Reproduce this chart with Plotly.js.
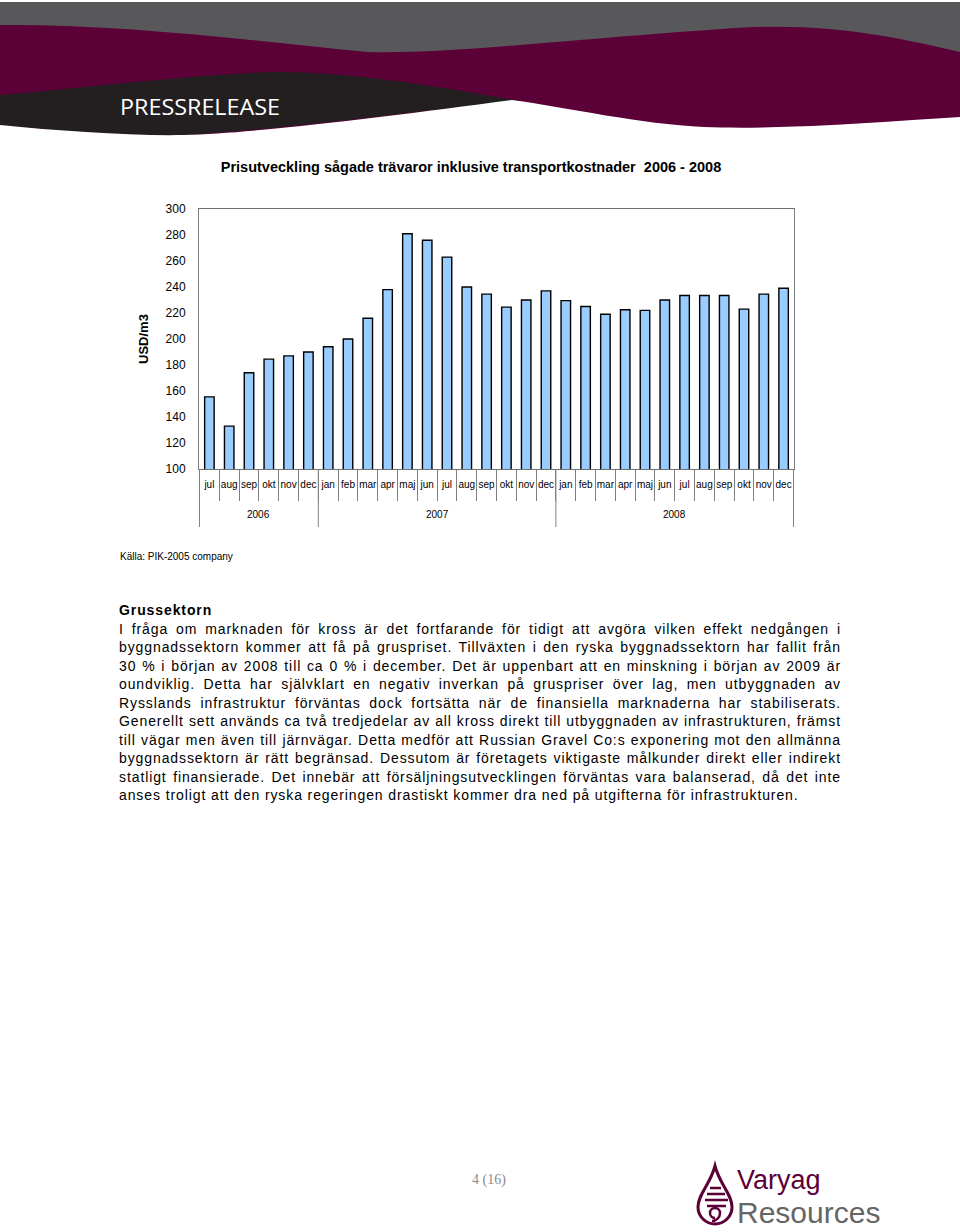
<!DOCTYPE html>
<html>
<head>
<meta charset="utf-8">
<script src="https://cdn.plot.ly/plotly-3.0.1.min.js"></script>
<style>
  body { margin: 0; background: #fff; }
  #page { position: relative; width: 960px; height: 1232px; overflow: hidden; background: #fff;
          font-family: "Liberation Sans", Arial, sans-serif; color: #000; }
  #header { position: absolute; left: 0; top: 0; }
  #chart { position: absolute; left: 0; top: 140px; width: 960px; height: 420px; }
  #source { position: absolute; left: 120px; top: 551px; font-size: 10px; }
  #body { position: absolute; left: 119px; top: 601px; width: 722px; font-size: 14px; line-height: 18.5px;
          letter-spacing: 0.9px; }
  #body .ln { white-space: nowrap; text-align: justify; text-align-last: justify; }
  #body .last { text-align: left; text-align-last: left; }
  #pageno { position: absolute; left: 472px; top: 1172px; font-family: "Liberation Serif", "DejaVu Serif", serif;
            font-size: 14px; color: #8a8a8a; }
  #logo { position: absolute; left: 690px; top: 1160px; }
  .brand { position: absolute; left: 737px; font-family: "Liberation Sans", Arial, sans-serif; white-space: nowrap;
           line-height: 1.117; }
  #brand1 { top: 1164.6px; font-size: 27px; color: #5c0038; }
  #brand2 { top: 1195.9px; font-size: 30px; color: #666; }
</style>
</head>
<body>
<div id="page">
  <svg id="header" width="960" height="140">
    <rect x="0" y="0" width="960" height="140" fill="#fff"/>
    <rect x="0" y="2" width="960" height="70" fill="#58585a"/>
    <path d="M0,25 C120,24 250,40 367,52 C450,54 560,40 735,28 C830,22 900,38 960,52 L960,140 L0,140 Z" fill="#5c0038"/>
    <path d="M0,95 C80,88 200,74 275,72 C350,72 430,85 520,101 C420,110 300,128 184,135 C120,137 50,130 0,125 Z" fill="#231f20"/>
    <path d="M0,125 C60,131 130,136 184,135 C260,133 400,115 512,100 C570,108 640,124 704,127 C780,130 880,122 960,117 L960,140 L0,140 Z" fill="#fff"/>
    <text x="120" y="115" fill="#fff" font-family="Open Sans, sans-serif" font-size="22"
          textLength="160" lengthAdjust="spacingAndGlyphs">PRESSRELEASE</text>
  </svg>

  <div id="chart"></div>

  <div id="source">Källa: PIK-2005 company</div>

  <div id="body">
    <div><b>Grussektorn</b></div>
    <div class="ln">I fråga om marknaden för kross är det fortfarande för tidigt att avgöra vilken effekt nedgången i</div>
    <div class="ln">byggnadssektorn kommer att få på gruspriset. Tillväxten i den ryska byggnadssektorn har fallit från</div>
    <div class="ln">30 % i början av 2008 till ca 0 % i december. Det är uppenbart att en minskning i början av 2009 är</div>
    <div class="ln">oundviklig. Detta har självklart en negativ inverkan på gruspriser över lag, men utbyggnaden av</div>
    <div class="ln">Rysslands infrastruktur förväntas dock fortsätta när de finansiella marknaderna har stabiliserats.</div>
    <div class="ln">Generellt sett används ca två tredjedelar av all kross direkt till utbyggnaden av infrastrukturen, främst</div>
    <div class="ln">till vägar men även till järnvägar. Detta medför att Russian Gravel Co:s exponering mot den allmänna</div>
    <div class="ln">byggnadssektorn är rätt begränsad. Dessutom är företagets viktigaste målkunder direkt eller indirekt</div>
    <div class="ln">statligt finansierade. Det innebär att försäljningsutvecklingen förväntas vara balanserad, då det inte</div>
    <div class="ln last">anses troligt att den ryska regeringen drastiskt kommer dra ned på utgifterna för infrastrukturen.</div>
  </div>

  <div id="pageno">4 (16)</div>

  <svg id="logo" width="50" height="70">
    <g fill="none" stroke="#5c0038" stroke-width="3">
      <path d="M25,6 C20,25 8,34 8,47 A17,17 0 0 0 42,47 C42,34 30,25 25,6 Z"/>
      <path d="M20,28 L31,28 M17,34 L35,34 M15,40 L38,40 M17,46 L36,46" stroke-width="2.5"/>
      <path d="M25,58 A5,5 0 1 1 30,53 A8,8 0 0 1 22,61" stroke-width="2.5"/>
    </g>
  </svg>
  <div class="brand" id="brand1">Varyag</div>
  <div class="brand" id="brand2">Resources</div>
</div>

<script>
  // Månadspriser, USD/m3
  const years = ['2006','2006','2006','2006','2006','2006',
    '2007','2007','2007','2007','2007','2007','2007','2007','2007','2007','2007','2007',
    '2008','2008','2008','2008','2008','2008','2008','2008','2008','2008','2008','2008'];
  const months = ['jul','aug','sep','okt','nov','dec',
    'jan','feb','mar','apr','maj','jun','jul','aug','sep','okt','nov','dec',
    'jan','feb','mar','apr','maj','jun','jul','aug','sep','okt','nov','dec'];
  const prices = [155.5, 133, 174, 184.5, 187, 190,
    194, 200, 216, 238, 281, 276, 263, 240, 234.5, 224.5, 230, 237,
    229.5, 225, 219, 222.5, 222, 230, 233.5, 233.5, 233.5, 223, 234.5, 239];

  const font = 'Liberation Sans, Arial, sans-serif';
  const cats = months.map((m, i) => m + ' ' + years[i]);

  // year groups: dividers at the edges, label in the middle
  const groups = [];
  years.forEach((y, i) => {
    if (!groups.length || groups[groups.length - 1].year !== y) groups.push({ year: y, start: i, end: i });
    else groups[groups.length - 1].end = i;
  });

  const plotH = 260;
  const shapes = [];
  const annotations = [];
  groups.forEach((g, k) => {
    if (k === 0) shapes.push({ type: 'line', xref: 'x', yref: 'paper', x0: g.start - 0.5, x1: g.start - 0.5,
      y0: 0, y1: -58 / plotH, line: { color: '#808080', width: 1 } });
    shapes.push({ type: 'line', xref: 'x', yref: 'paper', x0: g.end + 0.5, x1: g.end + 0.5,
      y0: 0, y1: -58 / plotH, line: { color: '#808080', width: 1 } });
    annotations.push({ xref: 'x', yref: 'paper', x: (g.start + g.end) / 2, y: -45 / plotH,
      text: g.year, showarrow: false, yanchor: 'middle', font: { family: font, size: 10, color: '#000' } });
  });

  const trace = {
    type: 'bar',
    x: cats,
    y: prices,
    marker: { color: '#99ccff', line: { color: '#000', width: 1.4 } },
    hoverinfo: 'skip'
  };

  const layout = {
    width: 960,
    height: 420,
    margin: { l: 199, r: 166, t: 69, b: 91 },
    paper_bgcolor: 'rgba(0,0,0,0)',
    plot_bgcolor: '#fff',
    font: { family: font, color: '#000' },
    showlegend: false,
    bargap: 0.52,
    title: {
      text: '<b>Prisutveckling sågade trävaror inklusive transportkostnader \u00a02006 - 2008</b>',
      font: { family: font, size: 14.5, color: '#000' },
      xref: 'container', x: 471 / 960, xanchor: 'center',
      yref: 'container', y: 1 - 27 / 420, yanchor: 'middle'
    },
    xaxis: {
      type: 'category',
      tickvals: cats, ticktext: months, tickangle: 0,
      showline: true, linecolor: '#707070', linewidth: 1, mirror: true,
      ticks: 'outside', tickson: 'boundaries', ticklen: 31, tickcolor: '#808080', tickwidth: 1,
      ticklabelstandoff: 6,
      tickfont: { family: font, size: 10, color: '#000' },
      showgrid: false
    },
    yaxis: {
      range: [100, 300], tick0: 100, dtick: 20,
      showgrid: false, zeroline: false,
      showline: true, linecolor: '#808080', linewidth: 1, mirror: true,
      ticks: '', ticklabelstandoff: 10,
      tickfont: { family: font, size: 12, color: '#000' },
      title: { text: '<b>USD/m3</b>', font: { family: font, size: 13, color: '#000' }, standoff: 14 }
    },
    shapes: shapes,
    annotations: annotations
  };

  Plotly.newPlot('chart', [trace], layout, { displayModeBar: false, staticPlot: true });
</script>
</body>
</html>
